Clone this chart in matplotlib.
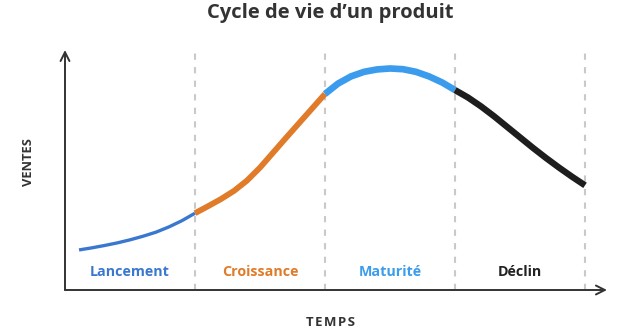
import matplotlib
matplotlib.use("Agg")
import matplotlib.pyplot as plt

plt.rcParams['font.family'] = ['Open Sans', 'DejaVu Sans']

title = "Cycle de vie d’un produit"
x_label = "T\u200aE\u200aM\u200aP\u200aS"
y_label = "VENTES"
phases = ["Lancement", "Croissance", "Maturité", "Déclin"]
phase_colors = ["#3a78d0", "#e07b2a", "#3b9ced", "#1e1e1e"]
label_colors = ["#3a78d0", "#e07b2a", "#3b9ced", "#222222"]
phase_bounds = [1, 2, 3, 4]

lancement_x = [0.108, 0.2, 0.3, 0.4, 0.5, 0.6, 0.7, 0.8, 0.9, 1.0]
lancement_y = [16.7, 17.5, 18.5, 19.6, 20.9, 22.4, 24.1, 26.3, 28.9, 32.0]
croissance_x = [1.0, 1.1, 1.2, 1.3, 1.4, 1.5, 1.6, 1.7, 1.8, 1.9, 2.0]
croissance_y = [32.0, 34.9, 37.9, 41.3, 45.6, 51.0, 57.2, 63.4, 69.5, 75.6, 81.7]
maturite_x = [2.0, 2.1, 2.2, 2.3, 2.4, 2.5, 2.6, 2.7, 2.8, 2.9, 3.0]
maturite_y = [81.7, 86.0, 89.0, 90.9, 91.9, 92.3, 92.0, 90.9, 89.0, 86.5, 83.3]
declin_x = [3.0, 3.1, 3.2, 3.3, 3.4, 3.5, 3.6, 3.7, 3.8, 3.9, 4.0]
declin_y = [83.3, 80.2, 76.5, 72.4, 68.0, 63.6, 59.2, 55.0, 51.0, 47.2, 43.6]

segments = [(lancement_x, lancement_y), (croissance_x, croissance_y),
            (maturite_x, maturite_y), (declin_x, declin_y)]
widths = [2.4, 4.2, 4.8, 4.6]

fig = plt.figure(figsize=(6.41, 3.31), dpi=100)
ax = fig.add_axes([65/641, 41/331, 542/641, 240/331])
ax.set_xlim(0, 4.169)
ax.set_ylim(0, 100)
ax.axis('off')

ax.vlines(phase_bounds, 0, 100.8, colors="#c9c9c9", linestyles=(0, (3, 3.5)), lw=1.5, zorder=1)

for (xs, ys), c, w in zip(segments, phase_colors, widths):
    ax.plot(xs, ys, color=c, lw=w, solid_capstyle='butt', solid_joinstyle='round', zorder=3)

for i, (name, c) in enumerate(zip(phases, label_colors)):
    ax.text(i + 0.5, 7.5, name, color=c, fontsize=10.3, fontweight='bold',
            ha='center', va='center')

arrow = dict(arrowstyle='->', lw=1.4, color='#333333', mutation_scale=16,
             shrinkA=0, shrinkB=0)
ax.annotate('', xy=(1, 0), xytext=(0, 0), xycoords='axes fraction', arrowprops=arrow)
ax.annotate('', xy=(0, 1), xytext=(0, 0), xycoords='axes fraction', arrowprops=arrow)

fig.text(330/641, 1 - 13/331, title, fontsize=14.5, fontweight='bold', color='#333333',
         ha='center', va='center')
fig.text(331/641, 1 - 323/331, x_label, fontsize=9.5, fontweight='bold', color='#333333',
         ha='center', va='center')
fig.text(28/641, 1 - 162/331, y_label, fontsize=9.3, fontweight='bold', color='#333333',
         ha='center', va='center', rotation=90)

fig.savefig("out.png", dpi=100, facecolor='white')
